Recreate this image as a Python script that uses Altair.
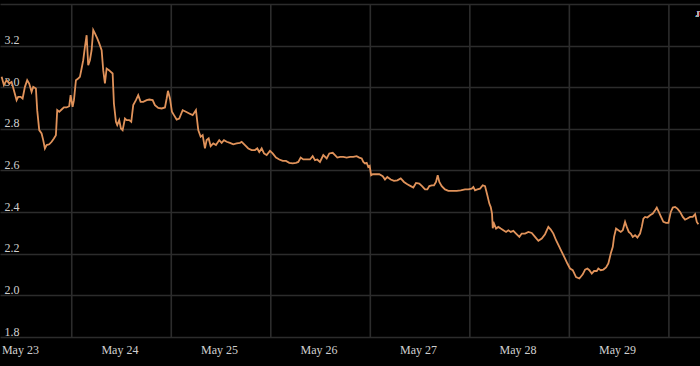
import altair as alt
import pandas as pd

# hours after May 23 00:00
hours = [-4.41, -3.86, -3.21, -2.58, -2.00, -1.45, -0.80, -0.41, 0.17, 0.65,
         1.21, 1.76, 2.24, 2.82, 3.21, 3.86, 4.17, 4.66, 5.23, 5.62,
         6.03, 6.44, 7.07, 7.65, 8.20, 8.68, 9.00, 9.48, 10.06, 10.61,
         11.26, 11.89, 12.23, 12.71, 13.03, 13.51, 14.06, 14.47, 14.88, 15.27,
         15.68, 16.09, 16.47, 16.88, 17.29, 17.68, 18.09, 18.65, 19.13, 19.71,
         20.09, 20.50, 20.91, 21.47, 22.36, 22.67, 23.16, 23.47, 23.95, 24.36,
         24.77, 25.33, 25.74, 26.36, 26.85, 27.33, 27.98, 28.53, 29.11, 29.74,
         30.56, 31.19, 32.01, 32.56, 33.36, 34.18, 34.98, 35.39, 35.70, 36.18,
         36.66, 37.15, 37.80, 38.42, 39.25, 40.04, 40.84, 41.66, 42.45, 43.01,
         43.59, 44.07, 44.62, 45.03, 45.52, 46.00, 46.63, 47.28, 48.07, 48.65,
         49.21, 49.86, 50.65, 51.45, 52.27, 53.07, 53.48, 54.27, 55.07, 55.89,
         56.68, 57.24, 57.72, 58.30, 58.86, 59.51, 60.30, 60.95, 61.75, 62.55,
         63.37, 64.16, 64.96, 65.78, 66.57, 67.13, 67.71, 68.33, 69.15, 69.95,
         70.60, 71.16, 71.71, 72.36, 73.16, 73.98, 74.61, 75.43, 75.98, 76.54,
         77.19, 77.98, 78.80, 79.60, 80.39, 81.21, 81.84, 82.42, 82.81, 83.22,
         83.63, 84.01, 84.35, 84.69, 85.08, 85.87, 86.67, 87.49, 88.04, 88.60,
         89.42, 90.21, 91.01, 91.83, 92.62, 93.42, 94.24, 94.87, 95.52, 96.31,
         96.97, 97.69, 98.25, 98.73, 99.31, 99.86, 100.34, 100.75, 101.14, 101.72,
         102.51, 103.31, 104.37, 105.33, 106.30, 107.34, 108.13, 108.95, 109.34, 109.75,
         110.31, 110.96, 111.61, 112.16, 112.72, 113.20, 113.54, 113.85, 114.02, 114.33,
         114.82, 115.37, 115.95, 116.58, 117.23, 117.78, 118.36, 118.99, 119.64, 120.44,
         121.01, 121.81, 122.61, 123.43, 124.22, 125.02, 125.84, 126.63, 127.43, 128.01,
         128.64, 129.29, 130.08, 130.66, 131.46, 132.02, 132.66, 133.31, 134.11, 134.91,
         135.73, 136.29, 136.84, 137.32, 137.90, 138.45, 139.10, 139.49, 140.07, 140.70,
         141.35, 141.90, 142.48, 142.97, 143.28, 143.76, 144.32, 144.89, 145.38, 145.93,
         146.34, 146.82, 147.31, 147.79, 148.34, 148.90, 149.55, 149.96, 150.35, 150.76,
         151.31, 151.96, 152.62, 153.17, 153.58, 154.06, 154.55, 155.17, 155.82, 156.38,
         156.96, 157.44, 157.99, 158.55, 159.20, 159.85, 160.40, 160.96, 161.61, 162.26,
         162.82, 163.23, 163.61]

values = [3.050, 3.010, 3.034, 3.018, 3.026, 2.986, 2.938, 2.954, 2.954, 2.946,
          3.002, 3.034, 3.018, 2.978, 3.002, 2.994, 2.890, 2.794, 2.778, 2.746,
          2.706, 2.722, 2.726, 2.738, 2.754, 2.770, 2.890, 2.882, 2.893, 2.903,
          2.903, 2.909, 2.962, 2.906, 2.938, 3.034, 3.042, 3.050, 3.090, 3.130,
          3.194, 3.250, 3.106, 3.130, 3.178, 3.275, 3.259, 3.235, 3.211, 3.178,
          3.082, 3.018, 3.090, 3.082, 3.066, 2.922, 2.834, 2.818, 2.842, 2.802,
          2.794, 2.850, 2.842, 2.842, 2.834, 2.914, 2.938, 2.962, 2.930, 2.930,
          2.938, 2.941, 2.938, 2.914, 2.901, 2.898, 2.903, 2.946, 2.983, 2.946,
          2.882, 2.866, 2.845, 2.850, 2.890, 2.882, 2.874, 2.866, 2.890, 2.794,
          2.762, 2.770, 2.706, 2.746, 2.754, 2.717, 2.730, 2.722, 2.746, 2.733,
          2.746, 2.738, 2.733, 2.726, 2.730, 2.733, 2.738, 2.722, 2.706, 2.698,
          2.698, 2.706, 2.689, 2.706, 2.682, 2.674, 2.694, 2.682, 2.662, 2.653,
          2.646, 2.646, 2.637, 2.634, 2.637, 2.641, 2.662, 2.653, 2.653, 2.653,
          2.669, 2.650, 2.653, 2.641, 2.674, 2.658, 2.682, 2.685, 2.674, 2.662,
          2.665, 2.665, 2.662, 2.665, 2.665, 2.669, 2.662, 2.658, 2.641, 2.634,
          2.637, 2.617, 2.622, 2.577, 2.582, 2.582, 2.582, 2.573, 2.557, 2.569,
          2.557, 2.550, 2.553, 2.562, 2.545, 2.534, 2.525, 2.518, 2.540, 2.537,
          2.525, 2.509, 2.509, 2.525, 2.529, 2.529, 2.545, 2.577, 2.545, 2.525,
          2.509, 2.502, 2.502, 2.502, 2.505, 2.509, 2.509, 2.513, 2.521, 2.505,
          2.509, 2.513, 2.529, 2.525, 2.481, 2.441, 2.424, 2.393, 2.323, 2.345,
          2.321, 2.329, 2.321, 2.313, 2.305, 2.313, 2.305, 2.310, 2.297, 2.281,
          2.297, 2.297, 2.305, 2.300, 2.281, 2.262, 2.273, 2.294, 2.329, 2.316,
          2.297, 2.265, 2.233, 2.209, 2.177, 2.153, 2.129, 2.121, 2.088, 2.081,
          2.101, 2.124, 2.129, 2.121, 2.105, 2.117, 2.117, 2.129, 2.121, 2.124,
          2.134, 2.153, 2.201, 2.233, 2.281, 2.321, 2.313, 2.305, 2.313, 2.353,
          2.329, 2.305, 2.297, 2.281, 2.289, 2.278, 2.297, 2.329, 2.369, 2.377,
          2.374, 2.385, 2.393, 2.409, 2.422, 2.401, 2.380, 2.353, 2.348, 2.348,
          2.401, 2.422, 2.425, 2.417, 2.401, 2.377, 2.364, 2.369, 2.377, 2.377,
          2.390, 2.353, 2.342]

base = pd.Timestamp("2024-05-23 00:00")
x_domain_hours = [-4.8, 164.0]
label_days = [23, 24, 25, 26, 27, 28, 29]
grid_hours = [12.5, 36.5, 60.5, 84.5, 108.5, 132.5, 156.5]
y_ticks = [1.8, 2.0, 2.2, 2.4, 2.6, 2.8, 3.0, 3.2, 3.4]

df = pd.DataFrame({"t": base + pd.to_timedelta(hours, unit="h"), "v": values})
grid_df = pd.DataFrame({"t": base + pd.to_timedelta(grid_hours, unit="h")})
dom = [(base + pd.Timedelta(hours=h)).isoformat() for h in x_domain_hours]
label_vals = [alt.DateTime(year=2024, month=5, date=d) for d in label_days]

FONT = "Liberation Serif"
GRID = "#2c2c2c"

xscale = alt.Scale(domain=dom)
yscale = alt.Scale(domain=[1.8, 3.4], nice=False, zero=False)

xaxis = alt.Axis(values=label_vals, format="%b %d", grid=False, ticks=False,
                 domain=False, labelFont=FONT, labelFontSize=12,
                 labelColor="#d0d0d0", labelPadding=7, labelFlush=False)

grid_rules = alt.Chart(grid_df).mark_rule(color=GRID, strokeWidth=1.6).encode(
    x=alt.X("t:T", scale=xscale, title=None, axis=xaxis)
)

line = alt.Chart(df).mark_line(color="#e0925a", strokeWidth=1.8, interpolate="linear").encode(
    x=alt.X("t:T", scale=xscale, title=None, axis=xaxis),
    y=alt.Y("v:Q", scale=yscale, title=None,
            axis=alt.Axis(values=y_ticks, grid=True, gridColor=GRID, gridWidth=1.6,
                          ticks=False, domain=False, labelAlign="left", labelPadding=-4,
                          labelBaseline="alphabetic", labelOffset=-2,
                          labelExpr="datum.value > 3.3 ? '' : format(datum.value, '.1f')",
                          labelFont=FONT, labelFontSize=12, labelColor="#d0d0d0")),
)

corner = alt.Chart(df).mark_text(text="J", align="left", baseline="alphabetic",
                                 font=FONT, fontSize=9, color="#aaaaaa").encode(
    x=alt.value(696), y=alt.value(13)
)

chart = alt.layer(grid_rules, line, corner).properties(
    width=700, height=333,
    padding={"left": 0, "top": 4, "right": 0, "bottom": 29},
    autosize=alt.AutoSizeParams(type="none"),
    background="#000000",
).configure_view(stroke=None)

chart.save("out.html", embed_options={"renderer": "svg", "actions": False})
